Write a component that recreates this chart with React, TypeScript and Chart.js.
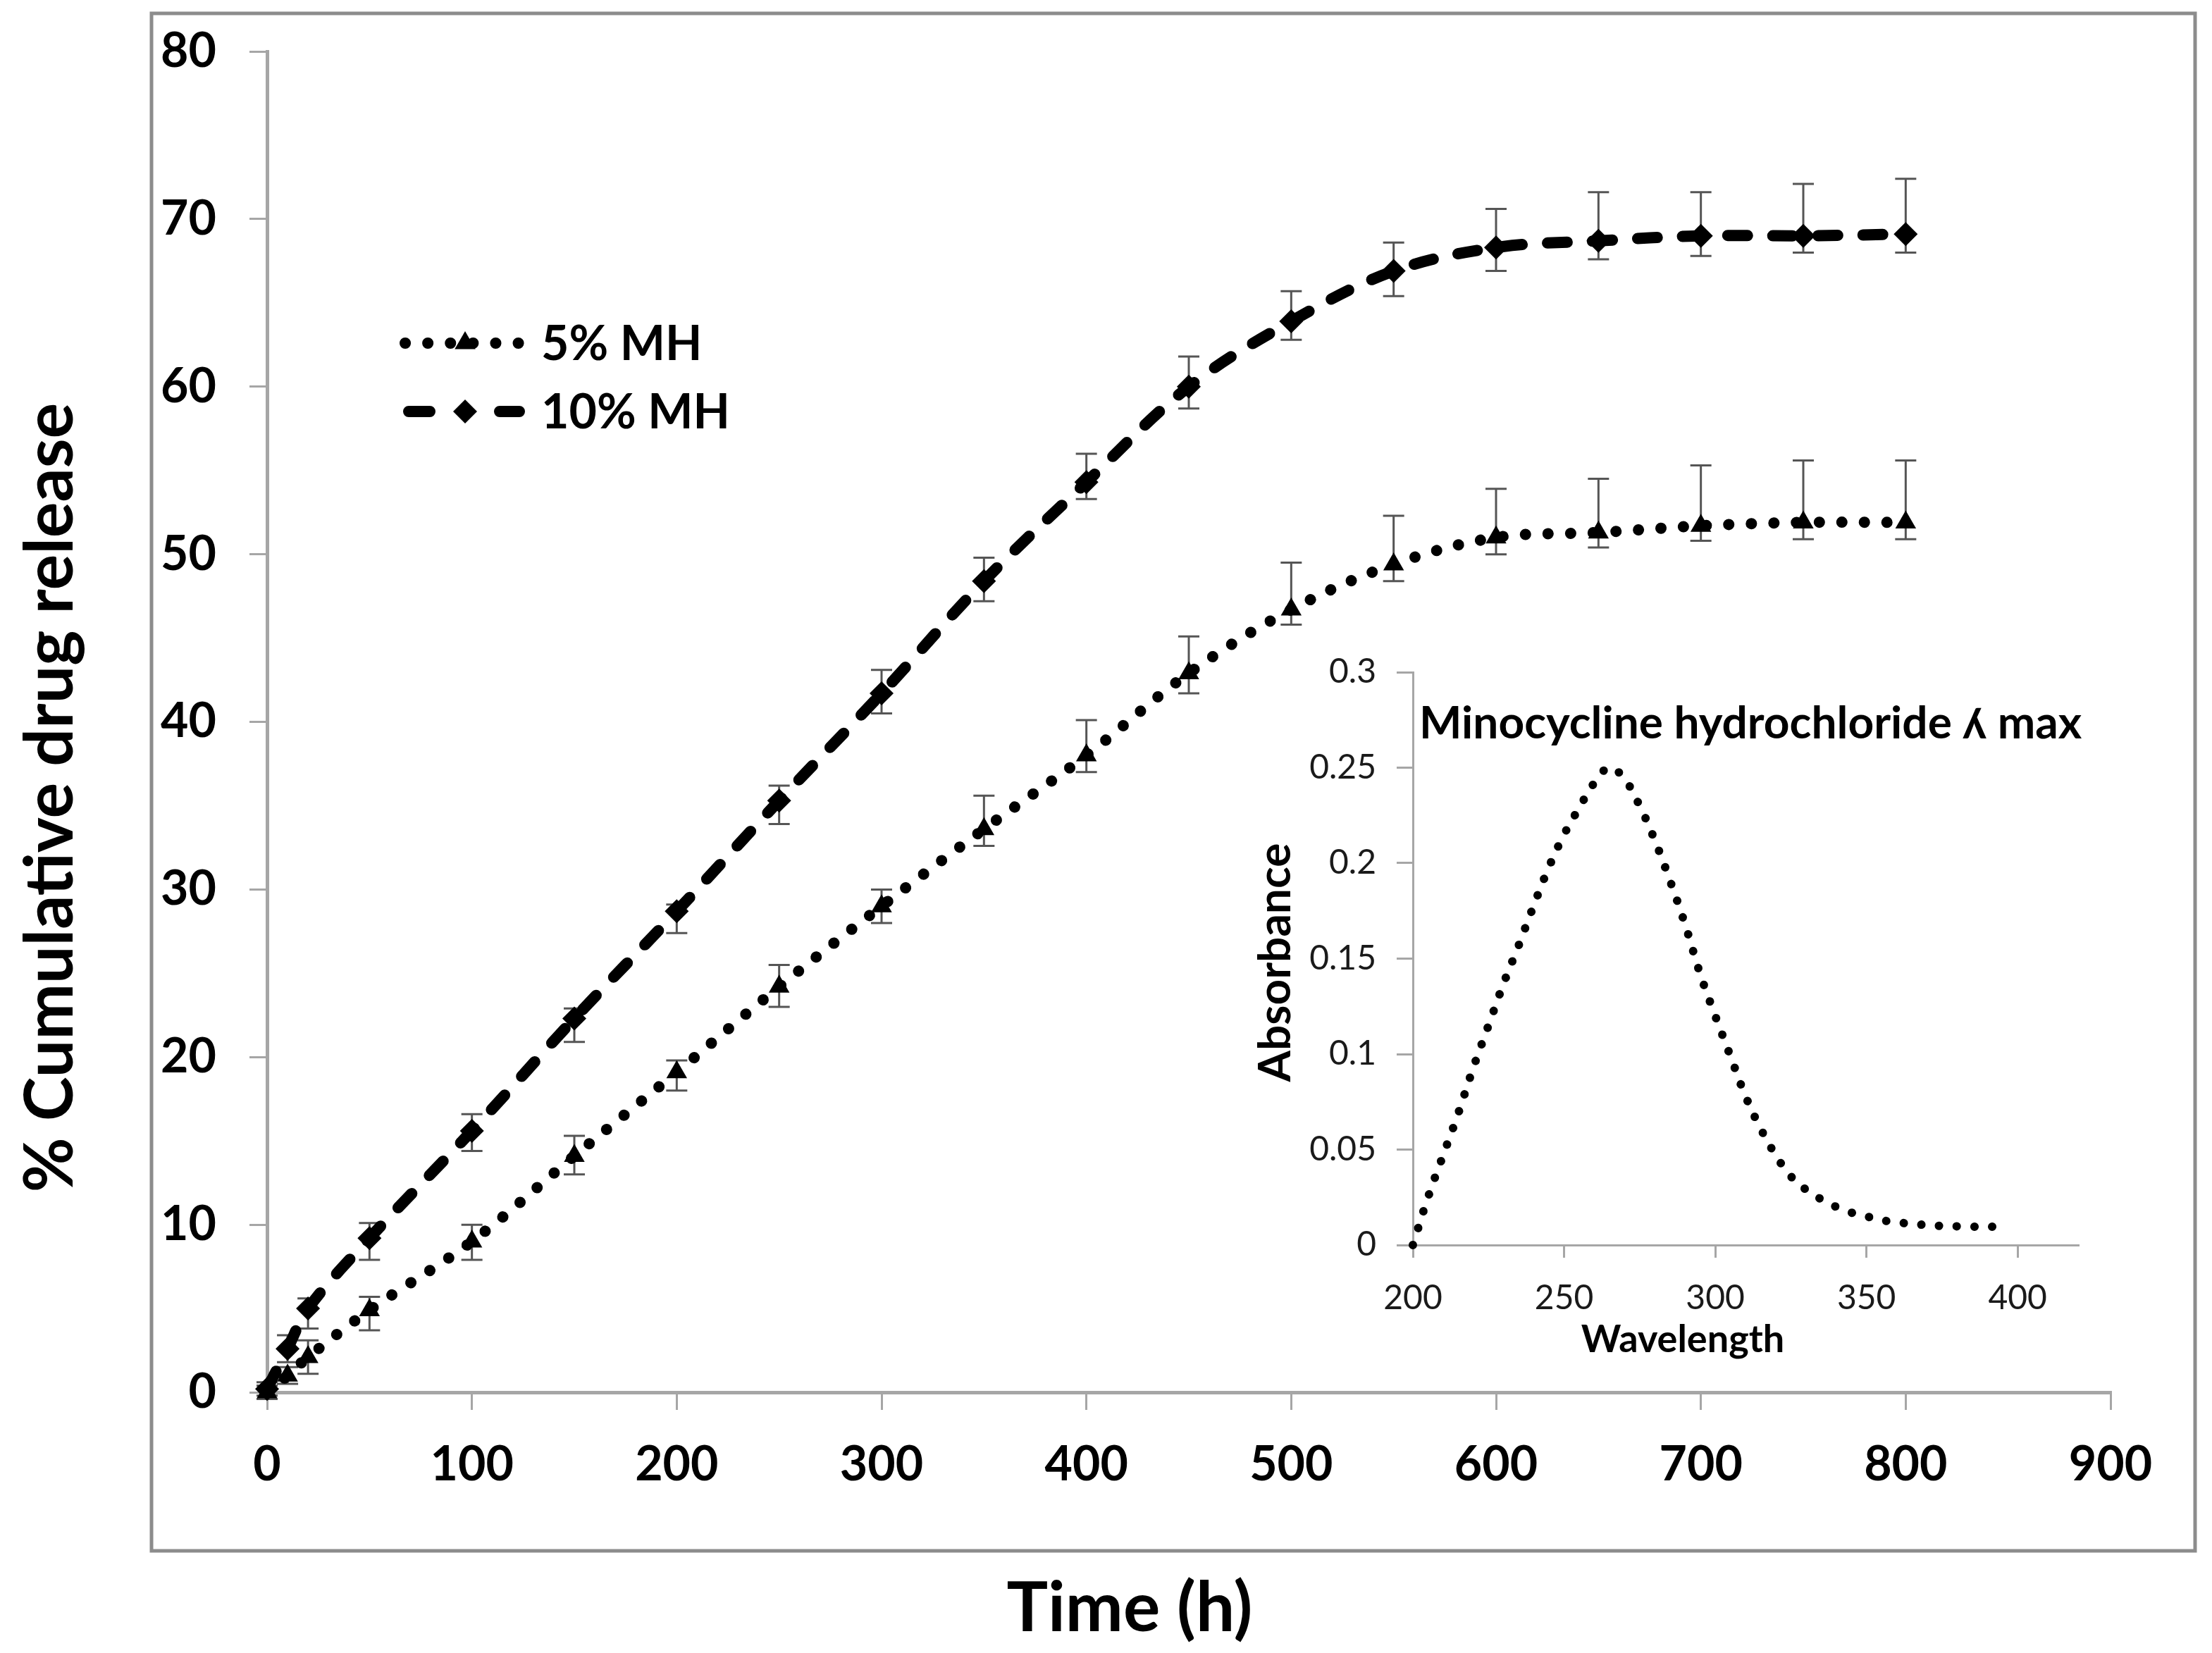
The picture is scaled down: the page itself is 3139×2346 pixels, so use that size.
import { useEffect, useRef } from "react";
import { Chart, registerables } from "chart.js";
import { drawPoint } from "chart.js/helpers";

Chart.register(...registerables);

// release study (time in hours, % cumulative release)
const timeHours = [0, 10, 20, 50, 100, 150, 200, 250, 300, 350, 400, 450, 500, 550, 600, 650, 700, 750, 800];
const release5 = [0, 1.0, 2.1, 4.9, 9.0, 14.1, 19.1, 24.2, 29.0, 33.6, 38.0, 42.9, 46.7, 49.4, 51.0, 51.3, 51.7, 51.9, 51.9];
const release5Plus = [0.4, 0.5, 1.0, 0.8, 1.0, 1.2, 0.7, 1.3, 1.0, 2.0, 2.1, 2.2, 2.8, 2.9, 2.9, 3.2, 3.6, 3.7, 3.7];
const release5Minus = [0.4, 0.5, 1.0, 1.2, 1.1, 1.1, 1.1, 1.2, 1.0, 1.0, 1.0, 1.2, 0.9, 1.0, 1.0, 0.9, 0.9, 1.0, 1.0];
const release10 = [0.2, 2.6, 5.0, 9.2, 15.6, 22.3, 28.7, 35.3, 41.7, 48.4, 54.3, 60.0, 63.9, 66.9, 68.3, 68.7, 69.0, 69.0, 69.1];
const release10Plus = [0.4, 0.8, 0.6, 0.9, 1.0, 0.6, 0.4, 0.9, 1.4, 1.4, 1.7, 1.8, 1.8, 1.7, 2.3, 2.9, 2.6, 3.1, 3.3];
const release10Minus = [0.4, 0.8, 1.2, 1.3, 1.2, 1.4, 1.3, 1.4, 1.2, 1.2, 1.0, 1.3, 1.1, 1.5, 1.4, 1.1, 1.2, 1.0, 1.1];
const timeTicks = [0, 100, 200, 300, 400, 500, 600, 700, 800, 900];
const releaseTicks = [0, 10, 20, 30, 40, 50, 60, 70, 80];

// inset: absorbance spectrum
const wavelengths = [200, 205, 210, 215, 220, 225, 230, 235, 240, 245, 250, 255, 260, 265, 270, 275, 280, 285, 290, 295,
  300, 305, 310, 315, 320, 325, 330, 335, 340, 345, 350, 355, 360, 365, 370, 375, 380, 385, 390, 397];
const absorbance = [0, 0.025, 0.047, 0.069, 0.093, 0.115, 0.137, 0.157, 0.178, 0.198, 0.215, 0.229, 0.242, 0.250, 0.244,
  0.230, 0.212, 0.191, 0.168, 0.142, 0.120, 0.099, 0.078, 0.061, 0.047, 0.036, 0.029, 0.024, 0.020, 0.017,
  0.015, 0.013, 0.012, 0.011, 0.0105, 0.010, 0.0098, 0.0096, 0.0096, 0.0095];
const wavelengthTicks = [200, 250, 300, 350, 400];
const absorbanceTicks = [0, 0.05, 0.1, 0.15, 0.2, 0.25, 0.3];

const FONT = "Lato, 'DejaVu Sans', sans-serif";
const AXIS_GREY = "#a6a6a6";
// main canvas starts a little above the page so the y tick padding does not push the plot down
const SHIFT = 16;

const errorBars = {
  id: "errorBars",
  beforeDatasetsDraw(chart: any, _args: any, opts: any) {
    const { ctx } = chart;
    const xs = chart.scales.x;
    const ys = chart.scales.y;
    ctx.save();
    ctx.strokeStyle = "#555555";
    ctx.lineWidth = 3;
    chart.data.datasets.forEach((ds: any, di: number) => {
      const plus = opts.plus[di];
      const minus = opts.minus[di];
      ds.data.forEach((p: any, i: number) => {
        const px = xs.getPixelForValue(p.x);
        const top = ys.getPixelForValue(p.y + plus[i]);
        const bot = ys.getPixelForValue(p.y - minus[i]);
        ctx.beginPath();
        ctx.moveTo(px, top);
        ctx.lineTo(px, bot);
        ctx.moveTo(px - 15, top);
        ctx.lineTo(px + 15, top);
        ctx.moveTo(px - 15, bot);
        ctx.lineTo(px + 15, bot);
        ctx.stroke();
      });
    });
    ctx.restore();
  },
};

const mainDecor = {
  id: "mainDecor",
  beforeDraw(chart: any) {
    const { ctx } = chart;
    ctx.save();
    ctx.strokeStyle = "#8c8c8c";
    ctx.lineWidth = 5;
    ctx.strokeRect(215, 19 + SHIFT, 2900, 2182);
    ctx.restore();
  },
  afterDraw(chart: any) {
    const { ctx } = chart;
    ctx.save();
    ctx.fillStyle = "#000";
    ctx.textAlign = "center";
    ctx.textBaseline = "middle";
    ctx.font = `bold 98px ${FONT}`;
    ctx.fillText("Time (h)", 1603, 2283 + SHIFT);
    ctx.translate(72, 1132 + SHIFT);
    ctx.rotate(-Math.PI / 2);
    ctx.font = `bold 95px ${FONT}`;
    ctx.fillText("% Cumulative drug release", 0, 0);
    ctx.restore();

    // legend
    const rows = [487 + SHIFT, 584 + SHIFT];
    chart.data.datasets.forEach((ds: any, i: number) => {
      const y = rows[i];
      ctx.save();
      ctx.strokeStyle = ds.borderColor;
      ctx.lineWidth = ds.borderWidth;
      ctx.lineCap = "round";
      ctx.beginPath();
      if (ds.pointStyle === "triangle") {
        ctx.setLineDash(ds.borderDash);
        ctx.moveTo(575, y);
        ctx.lineTo(740, y);
      } else {
        ctx.setLineDash([]);
        ctx.moveTo(580, y);
        ctx.lineTo(610, y);
        ctx.moveTo(709, y);
        ctx.lineTo(737, y);
      }
      ctx.stroke();
      ctx.setLineDash([]);
      ctx.fillStyle = ds.pointBackgroundColor;
      drawPoint(ctx, { pointStyle: ds.pointStyle, radius: ds.pointRadius, rotation: 0, borderWidth: 0 }, 660, y);
      ctx.fillStyle = "#000";
      ctx.font = `bold 68px ${FONT}`;
      ctx.textAlign = "left";
      ctx.textBaseline = "middle";
      ctx.fillText(ds.label, 768, y + 2);
      ctx.restore();
    });
  },
};

const insetDecor = {
  id: "insetDecor",
  afterDraw(chart: any) {
    const { ctx } = chart;
    ctx.save();
    ctx.fillStyle = "#000";
    ctx.textBaseline = "middle";
    ctx.textAlign = "left";
    ctx.font = `bold 64px ${FONT}`;
    ctx.fillText("Minocycline hydrochloride \u028E max", 254, 133);
    ctx.textAlign = "center";
    ctx.font = `bold 54px ${FONT}`;
    ctx.fillText("Wavelength", 628, 1008);
    ctx.translate(50, 472);
    ctx.rotate(-Math.PI / 2);
    ctx.font = `bold 64px ${FONT}`;
    ctx.fillText("Absorbance", 0, 0);
    ctx.restore();
  },
};

const fixTicks = (values: number[]) => (scale: any) => {
  scale.ticks = values.map((v) => ({ value: v }));
};

export default function App() {
  const mainRef = useRef<HTMLCanvasElement | null>(null);
  const insetRef = useRef<HTMLCanvasElement | null>(null);

  useEffect(() => {
    if (!mainRef.current || !insetRef.current) return;

    const main = new Chart(mainRef.current, {
      type: "line",
      data: {
        datasets: [
          {
            label: "5% MH",
            data: timeHours.map((t, i) => ({ x: t, y: release5[i] })),
            borderColor: "#000",
            borderWidth: 16,
            borderDash: [0.1, 32],
            borderCapStyle: "round",
            pointStyle: "triangle",
            pointRadius: 17,
            pointBackgroundColor: "#000",
            pointBorderWidth: 0,
            tension: 0.35,
            clip: false,
          },
          {
            label: "10% MH",
            data: timeHours.map((t, i) => ({ x: t, y: release10[i] })),
            borderColor: "#000",
            borderWidth: 16,
            borderDash: [28, 36],
            borderCapStyle: "round",
            pointStyle: "rectRot",
            pointRadius: 17,
            pointBackgroundColor: "#000",
            pointBorderWidth: 0,
            tension: 0.35,
            clip: false,
          },
        ],
      } as any,
      options: {
        responsive: false,
        devicePixelRatio: 1,
        animation: false,
        events: [],
        layout: { padding: { left: 0, top: 73 + SHIFT, right: 144, bottom: 0 } },
        plugins: {
          legend: { display: false },
          tooltip: { enabled: false },
          errorBars: {
            plus: [release5Plus, release10Plus],
            minus: [release5Minus, release10Minus],
          },
        } as any,
        scales: {
          x: {
            type: "linear",
            min: 0,
            max: 900,
            afterBuildTicks: fixTicks(timeTicks),
            afterFit: (s: any) => {
              s.height = 370;
            },
            grid: { drawOnChartArea: false, tickLength: 25, color: AXIS_GREY, lineWidth: 3 },
            border: { color: AXIS_GREY, width: 5 },
            ticks: {
              autoSkip: false,
              maxRotation: 0,
              padding: 37,
              color: "#000",
              font: { family: FONT, size: 68, weight: "bold" },
            },
          },
          y: {
            type: "linear",
            min: 0,
            max: 80,
            afterBuildTicks: fixTicks(releaseTicks),
            afterFit: (s: any) => {
              s.width = 379;
            },
            grid: { drawOnChartArea: false, tickLength: 25, color: AXIS_GREY, lineWidth: 3 },
            border: { color: AXIS_GREY, width: 5 },
            ticks: {
              padding: 47,
              color: "#000",
              font: { family: FONT, size: 68, weight: "bold" },
            },
          },
        },
      },
      plugins: [errorBars, mainDecor],
    });

    const inset = new Chart(insetRef.current, {
      type: "line",
      data: {
        datasets: [
          {
            label: "Absorbance",
            data: wavelengths.map((w, i) => ({ x: w, y: absorbance[i] })),
            borderColor: "#000",
            borderWidth: 12,
            borderDash: [0.1, 25],
            borderCapStyle: "round",
            pointRadius: 0,
            tension: 0.4,
            clip: false,
          },
        ],
      } as any,
      options: {
        responsive: false,
        devicePixelRatio: 1,
        animation: false,
        events: [],
        layout: { padding: { left: 0, top: 60, right: 51, bottom: 0 } },
        plugins: { legend: { display: false }, tooltip: { enabled: false } },
        scales: {
          x: {
            type: "linear",
            min: 200,
            max: 420,
            afterBuildTicks: fixTicks(wavelengthTicks),
            afterFit: (s: any) => {
              s.height = 173;
            },
            grid: { drawOnChartArea: false, tickLength: 18, color: AXIS_GREY, lineWidth: 3 },
            border: { color: AXIS_GREY, width: 3 },
            ticks: {
              autoSkip: false,
              maxRotation: 0,
              padding: 29,
              color: "#1a1a1a",
              font: { family: FONT, size: 48 },
            },
          },
          y: {
            type: "linear",
            min: 0,
            max: 0.3,
            afterBuildTicks: fixTicks(absorbanceTicks),
            afterFit: (s: any) => {
              s.width = 245;
            },
            grid: { drawOnChartArea: false, tickLength: 23, color: AXIS_GREY, lineWidth: 3 },
            border: { color: AXIS_GREY, width: 3 },
            ticks: {
              padding: 29,
              color: "#1a1a1a",
              font: { family: FONT, size: 48 },
              callback: (v: any) => String(Number(Number(v).toFixed(2))),
            },
          },
        },
      },
      plugins: [insetDecor],
    });

    return () => {
      main.destroy();
      inset.destroy();
    };
  }, []);

  return (
    <div style={{ position: "fixed", left: 0, top: 0, width: 3139, height: 2346, background: "#fff", overflow: "hidden" }}>
      <canvas ref={mainRef} width={3139} height={2346 + SHIFT} style={{ position: "absolute", left: 0, top: -SHIFT }} />
      <canvas ref={insetRef} width={1240} height={1046} style={{ position: "absolute", left: 1760, top: 894 }} />
    </div>
  );
}
